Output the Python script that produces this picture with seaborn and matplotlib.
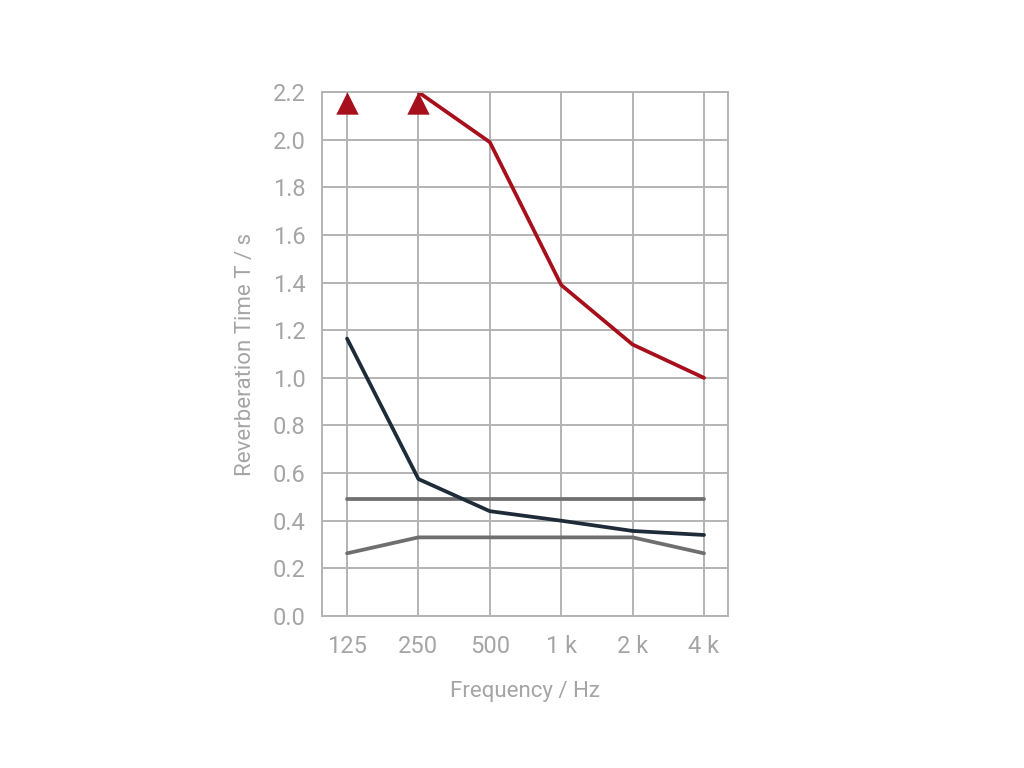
import numpy as np
import pandas as pd
import matplotlib
matplotlib.use("Agg")
import matplotlib.pyplot as plt
import seaborn as sns

freqs = ["125", "250", "500", "1 k", "2 k", "4 k"]
red_vals = [np.nan, 2.2, 1.99, 1.39, 1.14, 1.0]
navy_vals = [1.165, 0.575, 0.44, 0.40, 0.357, 0.34]
upper_vals = [0.49, 0.49, 0.49, 0.49, 0.49, 0.49]
lower_vals = [0.263, 0.33, 0.33, 0.33, 0.33, 0.263]
# values that run off the top of the scale
off_scale = [2.155, 2.155]

pos = np.arange(len(freqs))
df = pd.DataFrame({
    "pos": np.tile(pos, 4),
    "T": upper_vals + lower_vals + navy_vals + red_vals,
    "series": ["upper"] * 6 + ["lower"] * 6 + ["navy"] * 6 + ["red"] * 6,
})

text_col = "#a5a5a5"
grid_col = "#b3b3b3"
pal = {"upper": "#6f6f6f", "lower": "#6f6f6f", "navy": "#1e2c3a", "red": "#a60f1b"}

sns.set_theme(style="whitegrid")
plt.rcParams["font.family"] = ["Roboto", "DejaVu Sans"]

fig = plt.figure(figsize=(10.24, 7.68), dpi=100)
ax = fig.add_axes([0.3145, 0.198, 0.396, 0.682])

sns.lineplot(data=df, x="pos", y="T", hue="series", palette=pal, linewidth=2.7,
             legend=False, ax=ax, units="series", estimator=None)
ax.scatter(pos[:2], off_scale, marker="^", s=260, color=pal["red"], zorder=5,
           clip_on=False, linewidths=0)

ax.set_xlim(-0.35, 5.33)
ax.set_ylim(0, 2.2)
ax.set_xticks(pos)
ax.set_xticklabels(freqs)
ax.set_yticks(np.arange(0, 2.21, 0.2))
ax.set_yticklabels([f"{v:.1f}" for v in np.arange(0, 2.21, 0.2)])

ax.grid(True, color=grid_col, linewidth=1.4)
ax.set_axisbelow(True)
for sp in ax.spines.values():
    sp.set_color(grid_col)
    sp.set_linewidth(1.4)
ax.tick_params(axis="both", colors=text_col, labelsize=17, length=0)
ax.tick_params(axis="x", pad=13.5)
ax.tick_params(axis="y", pad=12)

ax.set_xlabel("Frequency / Hz", color=text_col, fontsize=16, labelpad=17)
ax.set_ylabel("Reverberation Time T / s", color=text_col, fontsize=16, labelpad=12)

fig.savefig("out.png", dpi=100, facecolor="white")
